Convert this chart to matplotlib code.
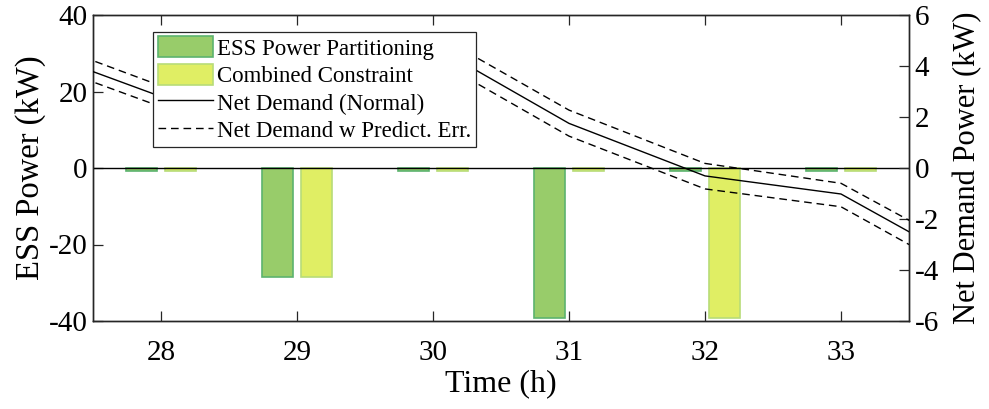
import matplotlib
matplotlib.use("Agg")
import matplotlib.pyplot as plt
import numpy as np
from matplotlib.patches import Patch
from matplotlib.lines import Line2D

plt.rcParams['font.family'] = ['Liberation Serif', 'DejaVu Serif']
plt.rcParams['axes.unicode_minus'] = False

# Bar data (left axis)
hours = [28, 29, 30, 31, 32, 33]
ess_partitioning = [-0.8, -28.5, -0.8, -39.2, -0.8, -0.8]
combined_constraint = [-0.8, -28.5, -0.8, -0.8, -39.2, -0.8]

# Line data (right axis)
line_hours = [27, 28, 29, 30, 31, 32, 33, 34]
net_demand_normal = [4.76, 2.8, 3.3, 4.8, 1.75, -0.31, -1.02, -3.98]
net_demand_upper = [5.2, 3.22, 3.8, 5.3, 2.27, 0.18, -0.6, -3.5]
net_demand_lower = [4.35, 2.4, 2.8, 4.3, 1.25, -0.82, -1.52, -4.48]

xticks = [28, 29, 30, 31, 32, 33]

green_fill = '#98cc6a'
green_edge = '#5cb36e'
yellow_fill = '#e0ee64'
yellow_edge = '#b8dc78'
spine_col = '#262626'

fig = plt.figure(figsize=(9.89, 4.09), dpi=100)
ax = fig.add_axes([93/989, 1-321/409, (909-93)/989, (321-15)/409])
ax2 = ax.twinx()

x = np.array(hours, dtype=float)
bw = 0.23
off = 0.142
ax.bar(x - off, ess_partitioning, width=bw, color=green_fill, edgecolor=green_edge, linewidth=1.2, zorder=2)
ax.bar(x + off, combined_constraint, width=bw, color=yellow_fill, edgecolor=yellow_edge, linewidth=1.2, zorder=2)
ax.axhline(0, color='black', linewidth=1.0, zorder=3)

ax.set_xlim(27.5, 33.5)
ax.set_ylim(-40, 40)
ax.set_yticks([-40, -20, 0, 20, 40])
ax.set_xticks(xticks)
ax.set_xticklabels([str(h) for h in xticks])
ax.set_xlabel('Time (h)', fontsize=23, labelpad=2)
ax.set_ylabel('ESS Power (kW)', fontsize=23.5, labelpad=2)

ax2.plot(line_hours, net_demand_normal, color='black', linewidth=1.0, zorder=3)
ax2.plot(line_hours, net_demand_upper, color='black', linewidth=1.0, dashes=(5.5, 3.5), zorder=3)
ax2.plot(line_hours, net_demand_lower, color='black', linewidth=1.0, dashes=(5.5, 3.5), zorder=3)
ax2.set_ylim(-6, 6)
ax2.set_yticks([-6, -4, -2, 0, 2, 4, 6])
ax2.set_xlim(27.5, 33.5)
ax2.set_ylabel('Net Demand Power (kW)', fontsize=22, labelpad=10)

for a in (ax, ax2):
    for s in a.spines.values():
        s.set_color(spine_col)
        s.set_linewidth(1.0)
    a.tick_params(direction='in', length=7, width=0.9, color=spine_col, labelsize=21, labelcolor='black')
ax.tick_params(axis='x', top=True, pad=14)
ax.tick_params(axis='y', right=False, pad=4)
ax2.tick_params(axis='y', pad=4)

handles = [
    Patch(facecolor=green_fill, edgecolor=green_edge, linewidth=1.2),
    Patch(facecolor=yellow_fill, edgecolor=yellow_edge, linewidth=1.2),
    Line2D([], [], color='black', linewidth=1.0),
    Line2D([], [], color='black', linewidth=1.0, dashes=(5.5, 3.5)),
]
labels = ['ESS Power Partitioning', 'Combined Constraint', 'Net Demand (Normal)', 'Net Demand w Predict. Err.']
leg = ax2.legend(handles, labels, loc='upper left', bbox_to_anchor=(153/989, 1-31.5/409),
                 bbox_transform=fig.transFigure, fontsize=16.5, frameon=True, fancybox=False,
                 edgecolor=spine_col, framealpha=1, borderpad=0.2, labelspacing=0.18,
                 handlelength=2.4, handleheight=1.05, handletextpad=0.2, borderaxespad=0)
leg.get_frame().set_linewidth(0.9)

fig.savefig('out.png', dpi=100)
